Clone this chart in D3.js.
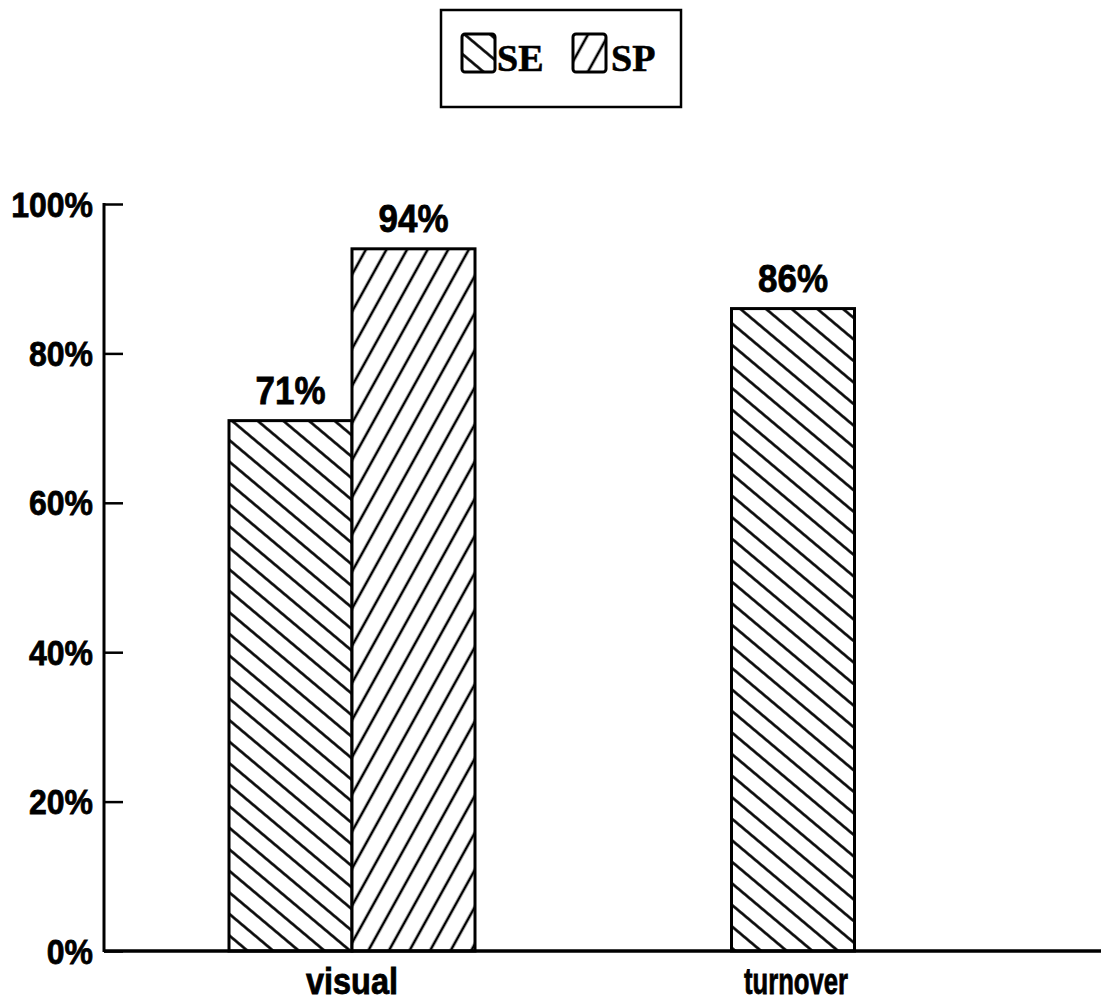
<!DOCTYPE html>
<html>
<head>
<meta charset="utf-8">
<script src="https://cdn.jsdelivr.net/npm/d3@7"></script>
<style>
  html, body { margin: 0; padding: 0; background: #fff; }
  svg { display: block; }
</style>
</head>
<body>
<svg id="chart" width="1101" height="1004"></svg>
<script>
const categories = ["visual", "turnover"];
const seriesNames = ["SE", "SP"];
const seSeries = [71, 86];
const spSeries = [94, null];
const yTicks = [0, 20, 40, 60, 80, 100];

const seriesValues = { SE: seSeries, SP: spSeries };

const svg = d3.select("#chart");
const W = 1101, H = 1004;
svg.append("rect").attr("width", W).attr("height", H).attr("fill", "#fff");

const axisX = 104;
const y = d3.scaleLinear().domain([0, 100]).range([951, 204]);
const x = d3.scalePoint().domain(categories).range([352, 793]);
const barW = 123;

const defs = svg.append("defs");
function hatch(id, angle, spacing, sw) {
  const p = defs.append("pattern")
    .attr("id", id)
    .attr("patternUnits", "userSpaceOnUse")
    .attr("width", spacing).attr("height", 40)
    .attr("patternTransform", `rotate(${angle})`);
  p.append("rect").attr("width", spacing).attr("height", 40).attr("fill", "#fff");
  p.append("line").attr("x1", spacing / 2).attr("x2", spacing / 2)
    .attr("y1", -5).attr("y2", 45)
    .attr("stroke", "#000").attr("stroke-width", sw);
}
hatch("hatchSE", -50, 16.5, 2.6);
hatch("hatchSP", 29, 18, 2.6);
const fills = { SE: "url(#hatchSE)", SP: "url(#hatchSP)" };

const sansFont = "'Liberation Sans', Arial, sans-serif";

function label(parent, tx, ty, str, size, sy, anchor, len) {
  const g = parent.append("g").attr("transform", `translate(${tx},${ty}) scale(1,${sy})`);
  const t = g.append("text")
    .attr("x", 0).attr("y", 0)
    .attr("text-anchor", anchor)
    .attr("font-family", sansFont).attr("font-weight", "bold")
    .attr("font-size", size)
    .attr("stroke", "#000").attr("stroke-width", 0.7)
    .text(str);
  if (len) t.attr("textLength", len).attr("lengthAdjust", "spacingAndGlyphs");
  return t;
}

// Bars
categories.forEach((cat, ci) => {
  const present = seriesNames.filter(s => seriesValues[s][ci] != null);
  const sub = d3.scaleBand().domain(present)
    .range([-barW * present.length / 2, barW * present.length / 2]);
  present.forEach(s => {
    const v = seriesValues[s][ci];
    const x0 = x(cat) + sub(s);
    svg.append("rect")
      .attr("x", x0).attr("y", y(v))
      .attr("width", sub.bandwidth()).attr("height", y(0) - y(v))
      .attr("fill", fills[s])
      .attr("stroke", "#000").attr("stroke-width", 3);
    label(svg, x0 + sub.bandwidth() / 2, y(v) - 17, v + "%", 35, 1.1, "middle");
  });
});

// Y axis
const yAxis = d3.axisRight(y).tickValues(yTicks).tickSize(19).tickFormat("");
const yg = svg.append("g").attr("transform", `translate(${axisX},0)`).call(yAxis);
yg.select(".domain").remove();
yg.selectAll(".tick line").attr("stroke", "#000").attr("stroke-width", 2.5);
svg.append("line").attr("x1", axisX).attr("x2", axisX)
  .attr("y1", y(100) - 1).attr("y2", y(0) + 1)
  .attr("stroke", "#000").attr("stroke-width", 3);
yTicks.forEach(t => {
  label(svg, 93, y(t) + 12.5, t + "%", 32, 1.08, "end");
});

// X axis
svg.append("line").attr("x1", axisX).attr("x2", W)
  .attr("y1", y(0)).attr("y2", y(0))
  .attr("stroke", "#000").attr("stroke-width", 3.5);
const catLens = { visual: 92, turnover: 104 };
categories.forEach(cat => {
  label(svg, x(cat) + (cat === "turnover" ? 3 : 0), 994, cat, 32, 1.15, "middle", catLens[cat]);
});

// Legend
const lg = svg.append("g");
lg.append("rect").attr("x", 441).attr("y", 10).attr("width", 240).attr("height", 97)
  .attr("fill", "#fff").attr("stroke", "#000").attr("stroke-width", 2.5);
const legendItems = [
  { s: "SE", sx: 462, tx: 497 },
  { s: "SP", sx: 573, tx: 611 }
];
legendItems.forEach(it => {
  lg.append("rect").attr("x", it.sx).attr("y", 34).attr("width", 33).attr("height", 38)
    .attr("rx", 3)
    .attr("fill", fills[it.s]).attr("stroke", "#000").attr("stroke-width", 3);
  lg.append("text").attr("x", it.tx).attr("y", 71)
    .attr("font-family", "'Liberation Serif', serif").attr("font-weight", "bold")
    .attr("font-size", 38)
    .attr("stroke", "#000").attr("stroke-width", 0.6)
    .text(it.s);
});
</script>
</body>
</html>
